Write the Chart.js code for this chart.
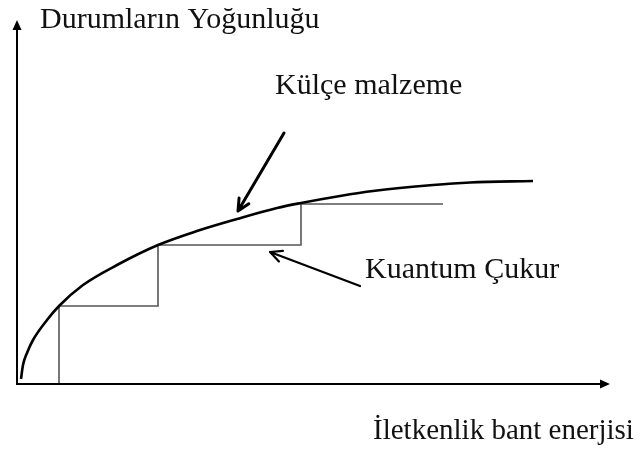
<!DOCTYPE html>
<html>
<head>
<meta charset="utf-8">
<script src="https://cdn.jsdelivr.net/npm/chart.js@4.4.1/dist/chart.umd.min.js"></script>
<style>
  html, body { margin: 0; padding: 0; background: #fff; }
  #wrap { width: 644px; height: 452px; }
</style>
</head>
<body>
<div id="wrap"><canvas id="dosChart"></canvas></div>
<script>
// bulk density of states curve (arbitrary units)
const bulkX = [4, 6, 10, 16, 30, 42, 66, 100, 141, 180, 220, 260, 284, 323, 356, 416, 453, 516];
const bulkY = [5, 19, 31, 44, 64, 78, 99, 119, 139, 153, 165, 176, 181, 188, 193, 199, 201.5, 203];

// quantum well staircase: step edges and plateau levels
const stepEdges = [42, 141, 284, 426];
const stepLevels = [78, 139, 180];

// axis ranges
const xMax = 593;
const yMax = 364;

// labels
const yTitle = 'Durumların Yoğunluğu';
const xTitle = 'İletkenlik bant enerjisi';
const bulkLabel = 'Külçe malzeme';
const wellLabel = 'Kuantum Çukur';

// label anchors and pointer arrows, in data units
const textPos = {
    y: [23, 356],
    x: [356, -55],
    bulk: [258, 290],
    well: [348, 106]
};
const bulkArrow = [[267, 251], [221, 173]];
const wellArrow = [[343, 98], [253, 132]];

const bulkData = bulkX.map((x, i) => ({ x: x, y: bulkY[i] }));

const stepData = [{ x: stepEdges[0], y: 0 }];
for (let i = 0; i < stepLevels.length; i++) {
    stepData.push({ x: stepEdges[i], y: stepLevels[i] });
    stepData.push({ x: stepEdges[i + 1], y: stepLevels[i] });
}

function arrowLine(ctx, x1, y1, x2, y2, width, head) {
    const a = Math.atan2(y2 - y1, x2 - x1);
    ctx.save();
    ctx.strokeStyle = '#000';
    ctx.lineWidth = width;
    ctx.lineCap = 'round';
    ctx.lineJoin = 'round';
    ctx.beginPath();
    ctx.moveTo(x1, y1);
    ctx.lineTo(x2, y2);
    ctx.moveTo(x2 - head * Math.cos(a - 0.45), y2 - head * Math.sin(a - 0.45));
    ctx.lineTo(x2, y2);
    ctx.lineTo(x2 - head * Math.cos(a + 0.45), y2 - head * Math.sin(a + 0.45));
    ctx.stroke();
    ctx.restore();
}

function filledHead(ctx, x, y, angle) {
    ctx.save();
    ctx.translate(x, y);
    ctx.rotate(angle);
    ctx.fillStyle = '#000';
    ctx.beginPath();
    ctx.moveTo(0, 0);
    ctx.lineTo(-10, -4.5);
    ctx.lineTo(-10, 4.5);
    ctx.closePath();
    ctx.fill();
    ctx.restore();
}

const sketchPlugin = {
    id: 'sketch',
    afterDatasetsDraw(chart) {
        const ctx = chart.ctx;
        const sx = chart.scales.x;
        const sy = chart.scales.y;
        const px = v => sx.getPixelForValue(v);
        const py = v => sy.getPixelForValue(v);

        // axes with arrow heads
        ctx.save();
        ctx.strokeStyle = '#000';
        ctx.lineWidth = 2;
        ctx.beginPath();
        ctx.moveTo(px(0), py(yMax) + 6);
        ctx.lineTo(px(0), py(0));
        ctx.lineTo(px(xMax) - 6, py(0));
        ctx.stroke();
        ctx.restore();
        filledHead(ctx, px(0), py(yMax), -Math.PI / 2);
        filledHead(ctx, px(xMax), py(0), 0);

        // pointer arrows
        arrowLine(ctx, px(bulkArrow[0][0]), py(bulkArrow[0][1]), px(bulkArrow[1][0]), py(bulkArrow[1][1]), 3, 13);
        arrowLine(ctx, px(wellArrow[0][0]), py(wellArrow[0][1]), px(wellArrow[1][0]), py(wellArrow[1][1]), 2.2, 13);

        // texts
        ctx.save();
        ctx.fillStyle = '#111';
        ctx.textBaseline = 'alphabetic';
        ctx.textAlign = 'left';
        ctx.font = '30px "Liberation Serif", "Times New Roman", serif';
        ctx.fillText(yTitle, px(textPos.y[0]), py(textPos.y[1]));
        ctx.fillText(bulkLabel, px(textPos.bulk[0]), py(textPos.bulk[1]));
        ctx.fillText(wellLabel, px(textPos.well[0]), py(textPos.well[1]));
        ctx.font = '29px "Liberation Serif", "Times New Roman", serif';
        ctx.fillText(xTitle, px(textPos.x[0]), py(textPos.x[1]));
        ctx.restore();
    }
};

const ctx = document.getElementById('dosChart').getContext('2d');
const dosChart = new Chart(ctx, {
    type: 'line',
    data: {
        datasets: [{
            label: bulkLabel,
            data: bulkData,
            borderColor: '#000',
            borderWidth: 2.6,
            pointRadius: 0,
            cubicInterpolationMode: 'monotone',
            fill: false,
            clip: false
        }, {
            label: wellLabel,
            data: stepData,
            borderColor: '#555',
            borderWidth: 1.6,
            pointRadius: 0,
            tension: 0,
            fill: false,
            clip: false
        }]
    },
    options: {
        responsive: true,
        maintainAspectRatio: false,
        animation: false,
        layout: { padding: { left: 17, right: 34, top: 20, bottom: 68 } },
        plugins: {
            legend: { display: false },
            tooltip: { enabled: false }
        },
        scales: {
            x: { type: 'linear', min: 0, max: xMax, display: false },
            y: { type: 'linear', min: 0, max: yMax, display: false }
        }
    },
    plugins: [sketchPlugin]
});
</script>
</body>
</html>
